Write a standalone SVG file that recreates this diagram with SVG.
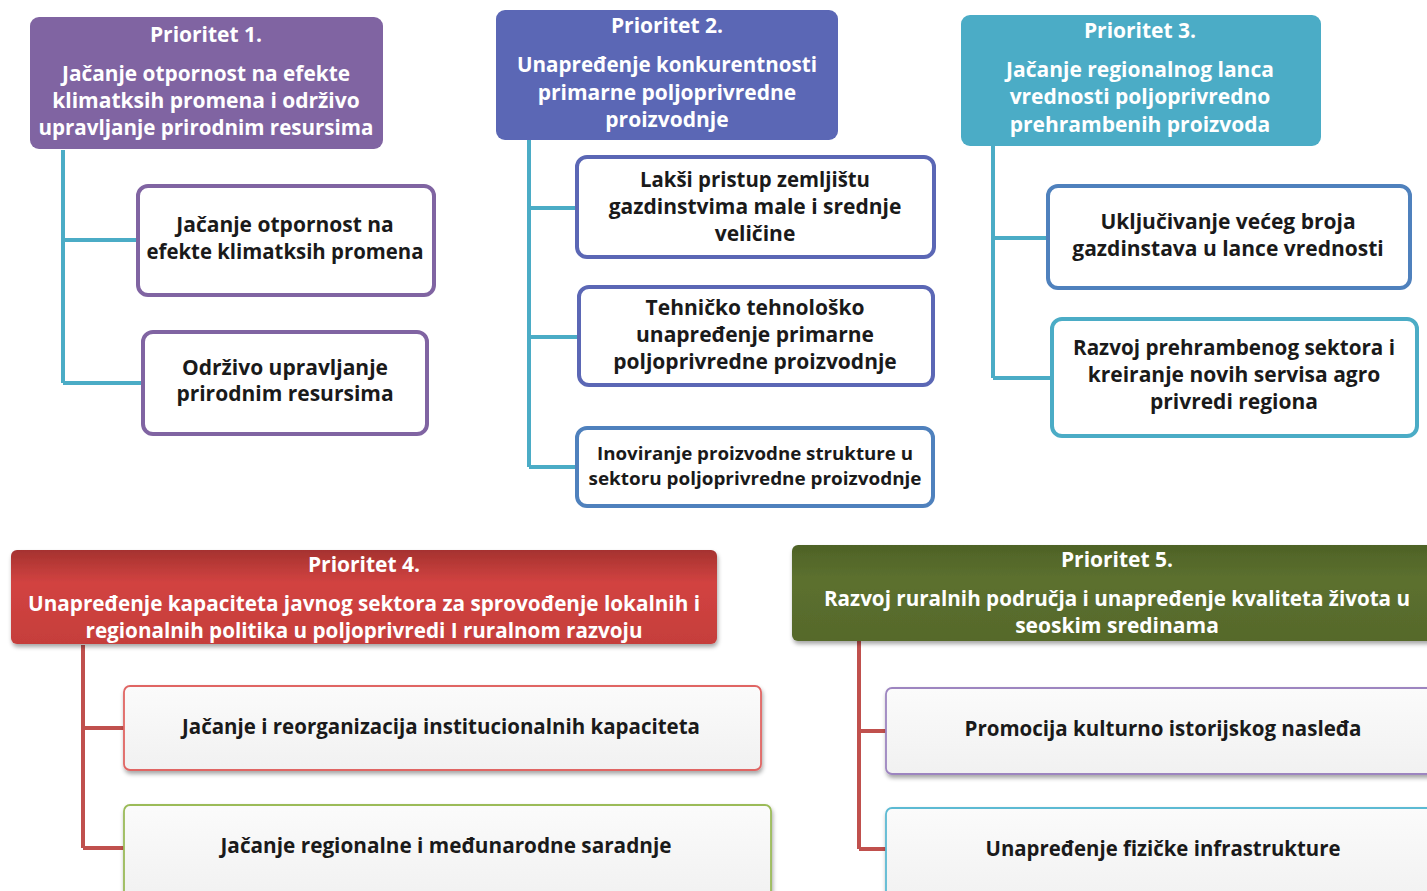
<svg xmlns="http://www.w3.org/2000/svg" width="1427" height="891" viewBox="0 0 1427 891">
<defs>
<linearGradient id="gRed" x1="0" y1="0" x2="0" y2="1">
<stop offset="0" stop-color="#a5322f"/><stop offset="0.35" stop-color="#d24341"/><stop offset="1" stop-color="#c53e3b"/>
</linearGradient>
<linearGradient id="gGreen" x1="0" y1="0" x2="0" y2="1">
<stop offset="0" stop-color="#4e6226"/><stop offset="0.35" stop-color="#5c702f"/><stop offset="1" stop-color="#56692b"/>
</linearGradient>
<linearGradient id="gLight" x1="0" y1="0" x2="0" y2="1">
<stop offset="0" stop-color="#fbfbfb"/><stop offset="1" stop-color="#f1f1f1"/>
</linearGradient>
<filter id="sh" x="-5%" y="-10%" width="110%" height="130%">
<feDropShadow dx="1" dy="3" stdDeviation="2" flood-color="#000" flood-opacity="0.35"/>
</filter>
</defs>
<style>
text{font-family:"Open Sans","Liberation Sans",sans-serif;font-weight:bold;text-anchor:middle;font-size:21px}
.w{fill:#ffffff}
.k{fill:#1a1a1a}
.s{font-size:18px}
.top{fill:none;stroke-width:4}
.con1{fill:none;stroke:#4bacc6;stroke-width:4}
.con2{fill:none;stroke:#c0504d;stroke-width:4}
.low{fill:url(#gLight);stroke-width:1.8;filter:url(#sh)}
</style>
<g id="connectors">
<path class="con1" d="M63 150 V383 M63 240 H137 M63 383 H142"/>
<path class="con1" d="M529 140 V467 M529 208 H576 M529 337 H578 M529 467 H576"/>
<path class="con1" d="M993 146 V378 M993 238 H1047 M993 378 H1051"/>
<path class="con2" d="M83 645 V848 M83 728 H124 M83 848 H124"/>
<path class="con2" d="M859 641 V849 M859 731 H886 M859 849 H886"/>
</g>
<g id="p1">
<rect x="30" y="17" width="353" height="132" rx="9" fill="#8064a2"/>
<text class="w" x="206" y="42">Prioritet 1.</text>
<text class="w" x="206" y="81" textLength="288" lengthAdjust="spacingAndGlyphs">Jačanje otpornost na efekte</text>
<text class="w" x="206" y="108">klimatksih promena i održivo</text>
<text class="w" x="206" y="135" textLength="335" lengthAdjust="spacingAndGlyphs">upravljanje prirodnim resursima</text>
</g>
<g id="p1a">
<rect class="top" x="138" y="186" width="296" height="109" rx="10" fill="#fff" stroke="#8064a2"/>
<text class="k" x="285" y="232">Jačanje otpornost na</text>
<text class="k" x="285" y="259" textLength="277" lengthAdjust="spacingAndGlyphs">efekte klimatksih promena</text>
</g>
<g id="p1b">
<rect class="top" x="143" y="332" width="284" height="102" rx="10" fill="#fff" stroke="#8064a2"/>
<text class="k" x="285" y="375">Održivo upravljanje</text>
<text class="k" x="285" y="401">prirodnim resursima</text>
</g>
<g id="p2">
<rect x="496" y="10" width="342" height="130" rx="9" fill="#5b67b5"/>
<text class="w" x="667" y="33">Prioritet 2.</text>
<text class="w" x="667" y="72" textLength="300" lengthAdjust="spacingAndGlyphs">Unapređenje konkurentnosti</text>
<text class="w" x="667" y="100">primarne poljoprivredne</text>
<text class="w" x="667" y="127">proizvodnje</text>
</g>
<g id="p2a">
<rect class="top" x="577" y="157" width="357" height="100" rx="10" fill="#fff" stroke="#5b67b5"/>
<text class="k" x="755" y="187" textLength="230" lengthAdjust="spacingAndGlyphs">Lakši pristup zemljištu</text>
<text class="k" x="755" y="214">gazdinstvima male i srednje</text>
<text class="k" x="755" y="241">veličine</text>
</g>
<g id="p2b">
<rect class="top" x="579" y="287" width="354" height="98" rx="10" fill="#fff" stroke="#5b67b5"/>
<text class="k" x="755" y="315">Tehničko tehnološko</text>
<text class="k" x="755" y="342">unapređenje primarne</text>
<text class="k" x="755" y="369">poljoprivredne proizvodnje</text>
</g>
<g id="p2c">
<rect class="top" x="577" y="428" width="356" height="78" rx="10" fill="#fff" stroke="#4f81bd"/>
<text class="k s" x="755" y="460" textLength="316" lengthAdjust="spacingAndGlyphs">Inoviranje proizvodne strukture u</text>
<text class="k s" x="755" y="485" textLength="333" lengthAdjust="spacingAndGlyphs">sektoru poljoprivredne proizvodnje</text>
</g>
<g id="p3">
<rect x="961" y="15" width="360" height="131" rx="9" fill="#4bacc6"/>
<text class="w" x="1140" y="38">Prioritet 3.</text>
<text class="w" x="1140" y="77">Jačanje regionalnog lanca</text>
<text class="w" x="1140" y="104">vrednosti poljoprivredno</text>
<text class="w" x="1140" y="132">prehrambenih proizvoda</text>
</g>
<g id="p3a">
<rect class="top" x="1048" y="186" width="362" height="102" rx="10" fill="#fff" stroke="#4f81bd"/>
<text class="k" x="1228" y="229">Uključivanje većeg broja</text>
<text class="k" x="1228" y="256">gazdinstava u lance vrednosti</text>
</g>
<g id="p3b">
<rect class="top" x="1052" y="319" width="365" height="117" rx="10" fill="#fff" stroke="#4bacc6"/>
<text class="k" x="1234" y="355" textLength="322" lengthAdjust="spacingAndGlyphs">Razvoj prehrambenog sektora i</text>
<text class="k" x="1234" y="382">kreiranje novih servisa agro</text>
<text class="k" x="1234" y="409">privredi regiona</text>
</g>
<g id="p4">
<rect x="11" y="550" width="706" height="94" rx="6" fill="url(#gRed)" filter="url(#sh)"/>
<text class="w" x="364" y="572">Prioritet 4.</text>
<text class="w" x="364" y="611" textLength="672" lengthAdjust="spacingAndGlyphs">Unapređenje kapaciteta javnog sektora za sprovođenje lokalnih i</text>
<text class="w" x="364" y="638" textLength="557" lengthAdjust="spacingAndGlyphs">regionalnih politika u poljoprivredi I ruralnom razvoju</text>
</g>
<g id="p4a">
<rect class="low" x="124" y="686" width="637" height="84" rx="6" stroke="#e06563"/>
<text class="k" x="441" y="734" textLength="518" lengthAdjust="spacingAndGlyphs">Jačanje i reorganizacija institucionalnih kapaciteta</text>
</g>
<g id="p4b">
<rect class="low" x="124" y="805" width="647" height="95" rx="6" stroke="#9bbb59"/>
<text class="k" x="446" y="853" textLength="451" lengthAdjust="spacingAndGlyphs">Jačanje regionalne i međunarodne saradnje</text>
</g>
<g id="p5">
<rect x="792" y="545" width="650" height="96" rx="6" fill="url(#gGreen)" filter="url(#sh)"/>
<text class="w" x="1117" y="567">Prioritet 5.</text>
<text class="w" x="1117" y="606" textLength="586" lengthAdjust="spacingAndGlyphs">Razvoj ruralnih područja i unapređenje kvaliteta života u</text>
<text class="w" x="1117" y="633">seoskim sredinama</text>
</g>
<g id="p5a">
<rect class="low" x="886" y="688" width="560" height="86" rx="6" stroke="#9d85c0"/>
<text class="k" x="1163" y="736" textLength="397" lengthAdjust="spacingAndGlyphs">Promocija kulturno istorijskog nasleđa</text>
</g>
<g id="p5b">
<rect class="low" x="886" y="808" width="560" height="95" rx="6" stroke="#5cbad3"/>
<text class="k" x="1163" y="856" textLength="355" lengthAdjust="spacingAndGlyphs">Unapređenje fizičke infrastrukture</text>
</g>
</svg>
